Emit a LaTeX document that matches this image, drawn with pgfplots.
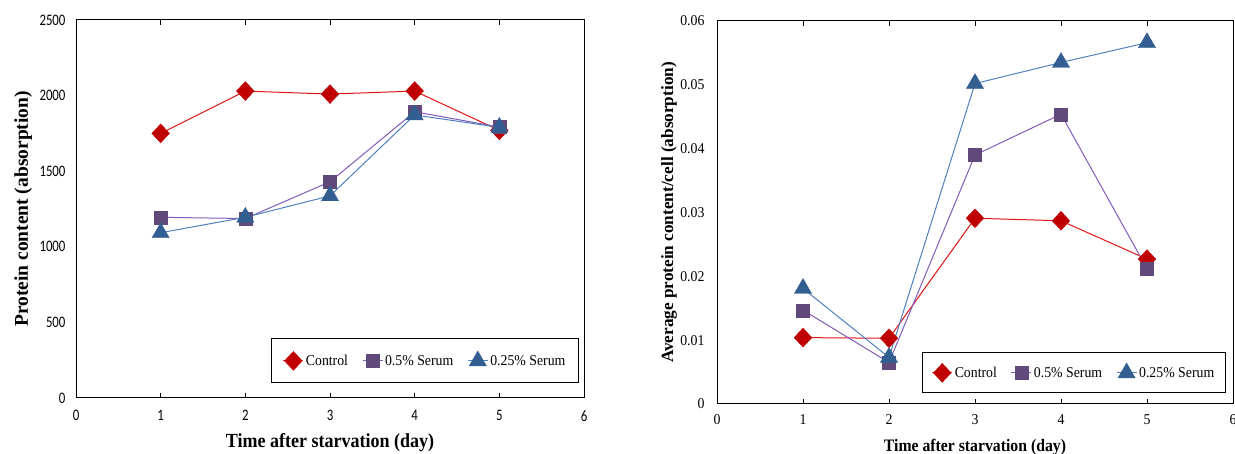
\documentclass[border=0pt]{standalone}
\usepackage{pgfplots}
\pgfplotsset{compat=1.18}
\usepackage{fontspec}
\setmainfont{Liberation Serif}
\newfontfamily\tickserif[FakeStretch=0.92]{Liberation Serif}
\newfontfamily\ticksans[FakeStretch=0.8]{Carlito}
\newfontfamily\labelfont[FakeStretch=0.9]{Liberation Serif}
\newfontfamily\legfont[FakeStretch=0.92]{Liberation Serif}

\definecolor{ctrlM}{RGB}{192,0,0}
\definecolor{ctrlL}{RGB}{225,20,20}
\definecolor{serM}{RGB}{96,74,123}
\definecolor{serL}{RGB}{130,90,185}
\definecolor{qM}{RGB}{50,94,145}
\definecolor{qL}{RGB}{79,129,189}

\pgfplotsset{
  mystyle/.style={
    scale only axis,
    xmin=0, xmax=6,
    xtick={0,1,2,3,4,5,6},
    xticklabels={0,1,2,3,4,5,6},
    scaled ticks=false,
    tick align=inside,
    major tick length=5pt,
    ytick style={draw=none},
    xtick style={black, line width=0.8pt},
    axis line style={black, line width=1pt},
    clip=false,
    legend columns=3,
    legend image code/.code={
      \draw[mark repeat=2,mark phase=2] plot coordinates {(0pt,0pt) (10pt,0pt) (20pt,0pt)};
    },
    /tikz/every even column/.append style={column sep=12pt},
  },
  ctrl/.style={color=ctrlL, line width=1pt, mark=diamond*, mark size=9.5pt,
     mark options={fill=ctrlM, draw=ctrlM, line width=0.3pt, xscale=1.25}},
  ser/.style={color=serL, line width=1pt, mark=square*, mark size=6.5pt,
     mark options={fill=serM, draw=serM, line width=0.3pt}},
  quart/.style={color=qL, line width=1pt, mark=triangle*, mark size=10pt,
     mark options={fill=qM, draw=qM, line width=0.3pt}},
}

\begin{document}
\begin{tikzpicture}[x=1pt,y=1pt]
\useasboundingbox (0,0) rectangle (1235,454);

% Left panel
\begin{axis}[mystyle,
  at={(76pt,56pt)}, anchor=south west,
  width=508pt, height=378pt,
  ymin=0, ymax=2500,
  ytick={0,500,1000,1500,2000,2500},
  yticklabels={0,500,1000,1500,2000,2500},
  ticklabel style={font=\ticksans\fontsize{16}{16}\selectfont},
  yticklabel style={xshift=-7pt},
  xticklabel style={yshift=-9pt},
  xlabel={Time after starvation (day)},
  ylabel={Protein content (absorption)},
  xlabel style={at={(axis description cs:0.5,-0.119)}, anchor=center, font=\labelfont\bfseries\fontsize{20}{20}\selectfont},
  ylabel style={at={(axis description cs:-0.104,0.5)}, anchor=center, font=\bfseries\fontsize{19.5}{20}\selectfont},
  legend style={at={(rel axis cs:0.99,0.04)}, anchor=south east, draw=black, line width=1pt,
    font=\legfont\fontsize{15}{15}\selectfont, inner xsep=11pt, inner ysep=12pt},
]
\addplot[ctrl] coordinates {(1,1750) (2,2030) (3,2010) (4,2030) (5,1770)};
\addplot[ser] coordinates {(1,1195) (2,1187) (3,1430) (4,1893) (5,1792)};
\addplot[quart] coordinates {(1,1093) (2,1195) (3,1337) (4,1872) (5,1790)};
\legend{Control,0.5\% Serum,0.25\% Serum}
\end{axis}

% Right panel
\begin{axis}[mystyle,
  at={(717pt,50pt)}, anchor=south west,
  width=516pt, height=383pt,
  ymin=0, ymax=0.06,
  ytick={0,0.01,0.02,0.03,0.04,0.05,0.06},
  yticklabels={0,0.01,0.02,0.03,0.04,0.05,0.06},
  ticklabel style={font=\tickserif\fontsize{15}{15}\selectfont},
  yticklabel style={xshift=-9pt},
  xticklabel style={yshift=-7pt},
  xlabel={Time after starvation (day)},
  ylabel={Average protein content/cell (absorption)},
  xlabel style={at={(axis description cs:0.5,-0.112)}, anchor=center, font=\labelfont\bfseries\fontsize{17.5}{18}\selectfont},
  ylabel style={at={(axis description cs:-0.093,0.5)}, anchor=center, font=\bfseries\fontsize{17.2}{18}\selectfont},
  legend style={at={(rel axis cs:0.986,0.029)}, anchor=south east, draw=black, line width=1pt,
    font=\legfont\fontsize{15}{15}\selectfont, inner xsep=9pt, inner ysep=10pt},
]
\addplot[ctrl] coordinates {(1,0.0104) (2,0.0103) (3,0.0291) (4,0.0287) (5,0.0227)};
\addplot[ser] coordinates {(1,0.0147) (2,0.0065) (3,0.0390) (4,0.0454) (5,0.0212)};
\addplot[quart] coordinates {(1,0.0181) (2,0.0073) (3,0.0502) (4,0.0535) (5,0.0566)};
\legend{Control,0.5\% Serum,0.25\% Serum}
\end{axis}
\end{tikzpicture}
\end{document}
